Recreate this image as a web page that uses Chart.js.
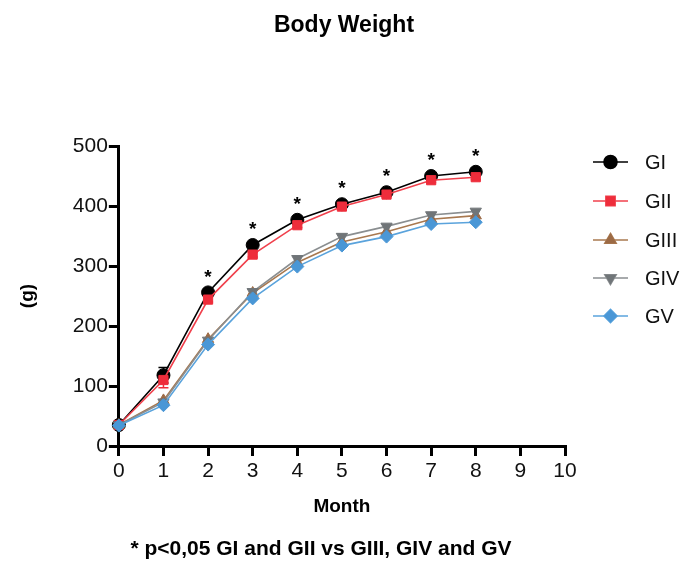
<!DOCTYPE html>
<html>
<head>
<meta charset="utf-8">
<script src="https://cdn.jsdelivr.net/npm/chart.js@4.4.1/dist/chart.umd.min.js"></script>
<style>
  html, body { margin: 0; padding: 0; background: #fff; }
  #wrap { width: 688px; height: 566px; }
</style>
</head>
<body>
<div id="wrap"><canvas id="c" width="688" height="566"></canvas></div>
<script>
const months = [0, 1, 2, 3, 4, 5, 6, 7, 8];
const groupNames = ['GI', 'GII', 'GIII', 'GIV', 'GV'];
const gI   = [35, 118, 256, 335, 377, 403, 423, 450, 457];
const gII  = [35, 110, 244, 319, 368, 399, 419, 443, 448];
const gIII = [35, 76, 178, 255, 306, 340, 357, 378, 384];
const gIV  = [35, 73, 176, 257, 312, 349, 366, 385, 391];
const gV   = [34, 68, 169, 246, 299, 334, 349, 370, 373];
const errGI  = [2, 13, 4, 4, 4, 4, 4, 4, 4];
const errGII = [2, 13, 4, 4, 4, 4, 4, 4, 4];
const starMonths = [2, 3, 4, 5, 6, 7, 8];
const xTicks = [0, 1, 2, 3, 4, 5, 6, 7, 8, 9, 10];
const yTicks = [0, 100, 200, 300, 400, 500];
const titleText = 'Body Weight';
const footnoteText = '* p<0,05 GI and GII vs GIII, GIV and GV';

const FONT = '"Liberation Sans", Arial, Helvetica, sans-serif';

const styles = [
  { color: '#000000', line: '#000000', point: 'circle', rot: 0, r: 6.5 },
  { color: '#ee2d3b', line: '#f0404c', point: 'rect', rot: 0, r: 6.5 },
  { color: '#9c6a45', line: '#a8784f', point: 'triangle', rot: 0, r: 6.5 },
  { color: '#707578', line: '#8a8e90', point: 'triangle', rot: 180, r: 6.5 },
  { color: '#4a97d6', line: '#5aa3dc', point: 'rectRot', rot: 0, r: 6.5 }
];
const series = [gI, gII, gIII, gIV, gV];

const datasets = series.map((vals, i) => ({
  label: groupNames[i],
  data: months.map((m, j) => ({ x: m, y: vals[j] })),
  borderColor: styles[i].line,
  backgroundColor: styles[i].color,
  pointBackgroundColor: styles[i].color,
  pointBorderColor: styles[i].color,
  pointStyle: styles[i].point,
  pointRotation: styles[i].rot,
  pointRadius: styles[i].r,
  pointBorderWidth: 1,
  borderWidth: 1.6,
  tension: 0,
  fill: false,
  clip: false
})).reverse();

const errorBars = {
  id: 'errorBars',
  beforeDatasetsDraw(chart) {
    const { ctx, scales: { x, y } } = chart;
    const sets = [[gI, errGI, '#000000'], [gII, errGII, '#ee2d3b']];
    ctx.save();
    ctx.lineWidth = 1.5;
    sets.forEach(([vals, errs, col]) => {
      ctx.strokeStyle = col;
      months.forEach((m, j) => {
        const px = x.getPixelForValue(m);
        const top = y.getPixelForValue(vals[j] + errs[j]);
        const bot = y.getPixelForValue(vals[j] - errs[j]);
        ctx.beginPath();
        ctx.moveTo(px, top); ctx.lineTo(px, bot);
        ctx.moveTo(px - 5, top); ctx.lineTo(px + 5, top);
        ctx.moveTo(px - 5, bot); ctx.lineTo(px + 5, bot);
        ctx.stroke();
      });
    });
    ctx.restore();
  }
};

const stars = {
  id: 'stars',
  afterDatasetsDraw(chart) {
    const { ctx, scales: { x, y } } = chart;
    ctx.save();
    ctx.fillStyle = '#000';
    ctx.font = 'bold 19px ' + FONT;
    ctx.textAlign = 'center';
    ctx.textBaseline = 'middle';
    starMonths.forEach(m => {
      const j = months.indexOf(m);
      const px = x.getPixelForValue(m);
      const py = y.getPixelForValue(gI[j]) - 15;
      ctx.fillText('*', px, py);
    });
    ctx.restore();
  }
};

const textsAndLegend = {
  id: 'textsAndLegend',
  afterDraw(chart) {
    const { ctx, width } = chart;
    ctx.save();
    ctx.fillStyle = '#000';
    ctx.textAlign = 'center';
    ctx.textBaseline = 'middle';
    ctx.font = 'bold 23px ' + FONT;
    ctx.fillText(titleText, width / 2, 26);
    ctx.font = 'bold 21px ' + FONT;
    ctx.fillText(footnoteText, 321, 549);

    const x0 = 593, x1 = 628, xm = 610.5, tx = 645;
    const ys = [162, 201, 240, 278, 316];
    groupNames.forEach((name, i) => {
      const s = styles[i];
      const yy = ys[i];
      ctx.strokeStyle = s.line;
      ctx.lineWidth = 1.6;
      ctx.beginPath(); ctx.moveTo(x0, yy); ctx.lineTo(x1, yy); ctx.stroke();
      ctx.fillStyle = s.color;
      Chart.helpers.drawPoint(ctx, { pointStyle: s.point, rotation: s.rot, radius: s.r, borderWidth: 1 }, xm, yy);
      ctx.fill();
      ctx.fillStyle = '#111';
      ctx.font = '20px ' + FONT;
      ctx.textAlign = 'left';
      ctx.textBaseline = 'middle';
      ctx.fillText(name, tx, yy + 1);
    });
    ctx.restore();
  }
};

new Chart(document.getElementById('c'), {
  type: 'line',
  data: { datasets },
  plugins: [errorBars, stars, textsAndLegend],
  options: {
    responsive: false,
    animation: false,
    layout: { padding: { left: 16, right: 123, top: 146, bottom: 48 } },
    plugins: {
      legend: { display: false },
      tooltip: { enabled: false },
      title: { display: false },
      subtitle: { display: false }
    },
    scales: {
      x: {
        type: 'linear',
        min: 0, max: 10,
        afterBuildTicks: (ax) => { ax.ticks = xTicks.map(v => ({ value: v })); },
        ticks: { color: '#111', font: { family: FONT, size: 21 }, padding: 3, maxRotation: 0 },
        grid: { drawOnChartArea: false, drawTicks: true, tickLength: 10, color: '#000', lineWidth: 3 },
        border: { display: true, color: '#000', width: 3 },
        title: { display: true, text: 'Month', color: '#000', font: { family: FONT, size: 19, weight: 'bold' }, padding: { top: 8, bottom: 0 } }
      },
      y: {
        min: 0, max: 500,
        afterBuildTicks: (ax) => { ax.ticks = yTicks.map(v => ({ value: v })); },
        ticks: { color: '#111', font: { family: FONT, size: 21 }, padding: 1 },
        grid: { drawOnChartArea: false, drawTicks: true, tickLength: 10, color: '#000', lineWidth: 3 },
        border: { display: true, color: '#000', width: 3 },
        title: { display: true, text: '(g)', color: '#000', font: { family: FONT, size: 19, weight: 'bold' }, padding: { top: 0, bottom: 33 } }
      }
    }
  }
});
</script>
</body>
</html>
